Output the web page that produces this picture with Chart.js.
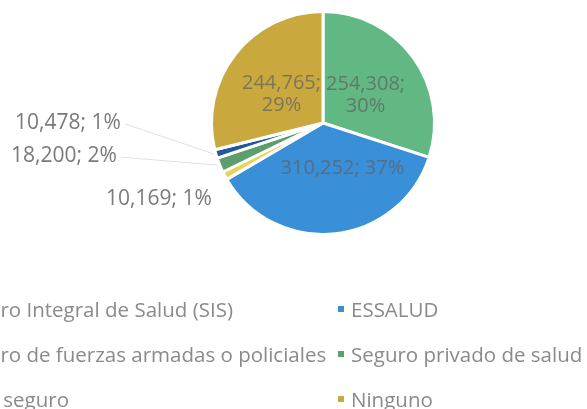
<!DOCTYPE html>
<html>
<head>
<meta charset="utf-8">
<script src="https://cdn.jsdelivr.net/npm/chart.js@4/dist/chart.umd.min.js"></script>
<style>
  html, body { margin: 0; padding: 0; background: #fff; overflow: hidden; }
  #wrap { position: relative; width: 587px; height: 409px; overflow: hidden; }
  #chart { position: absolute; left: 0; top: 0; }
  #legend {
    position: absolute; left: -59px; top: 286px;
    display: grid; grid-template-columns: 397px 260px; grid-auto-rows: 45px;
    font-family: "Open Sans", sans-serif; font-size: 20.5px; color: #8a8a8a;
  }
  #legend div { display: flex; align-items: center; white-space: nowrap; }
  #legend span.box { width: 6px; height: 6px; margin-right: 7px; flex: none; }
</style>
</head>
<body>
<div id="wrap">
  <canvas id="chart" width="587" height="409"></canvas>
  <div id="legend"></div>
</div>
<script>
const labels = [
  'Seguro Integral de Salud (SIS)',
  'ESSALUD',
  'Seguro de fuerzas armadas o policiales',
  'Seguro privado de salud',
  'Otro seguro',
  'Ninguno'
];
const values = [254308, 310252, 10169, 18200, 10478, 244765];
const colors = ['#62b882', '#3a8fd9', '#e6d45a', '#5c9f6c', '#1f5b9c', '#c9a93e'];

// legend (two columns, like the original)
const legendEl = document.getElementById('legend');
labels.forEach((name, i) => {
  const item = document.createElement('div');
  item.innerHTML = '<span class="box" style="background:' + colors[i] + '"></span>' + name;
  legendEl.appendChild(item);
});

// label placement per slice: inside (two lines / one line) or outside with leader
const labelStyle = [
  { mode: 'inside', wrap: true, dx: 2, dy: 2 },
  { mode: 'inside', wrap: false, dx: 14, dy: -5 },
  { mode: 'outside', dx: -13, dy: 23, leader: false },
  { mode: 'outside', dx: -103, dy: -9, leader: true },
  { mode: 'outside', dx: -95, dy: -31, leader: true },
  { mode: 'inside', wrap: true, dx: -2, dy: 2 }
];

const sliceLabels = {
  id: 'sliceLabels',
  afterDatasetsDraw(chart) {
    const ctx = chart.ctx;
    const meta = chart.getDatasetMeta(0);
    const data = chart.data.datasets[0].data;
    const total = data.reduce((a, b) => a + b, 0);
    ctx.save();
    ctx.textBaseline = 'middle';
    meta.data.forEach((arc, i) => {
      const p = arc.getProps(['x', 'y', 'startAngle', 'endAngle', 'outerRadius'], true);
      const mid = (p.startAngle + p.endAngle) / 2;
      const num = data[i].toLocaleString('en-US');
      const pct = Math.round(data[i] / total * 100) + '%';
      const st = labelStyle[i];
      if (st.mode === 'inside') {
        const r = p.outerRadius * 0.45;
        const cx = p.x + Math.cos(mid) * r + st.dx;
        const cy = p.y + Math.sin(mid) * r + st.dy;
        ctx.font = '20px "Open Sans", sans-serif';
        ctx.fillStyle = 'rgba(95,95,95,0.7)';
        ctx.textAlign = 'center';
        if (st.wrap) {
          ctx.fillText(num + ';', cx, cy - 11);
          ctx.fillText(pct, cx, cy + 11);
        } else {
          ctx.fillText(num + '; ' + pct, cx, cy);
        }
      } else {
        const ex = p.x + Math.cos(mid) * p.outerRadius;
        const ey = p.y + Math.sin(mid) * p.outerRadius;
        const tx = ex + st.dx;
        const ty = ey + st.dy;
        if (st.leader) {
          ctx.strokeStyle = '#e0e0e0';
          ctx.lineWidth = 1;
          ctx.beginPath();
          ctx.moveTo(tx + 4, ty + 1);
          ctx.lineTo(ex - 2, ey);
          ctx.stroke();
        }
        ctx.font = '21px "Open Sans", sans-serif';
        ctx.fillStyle = '#7a7a7a';
        ctx.textAlign = 'right';
        ctx.fillText(num + '; ' + pct, tx, ty);
      }
    });
    ctx.restore();
  }
};

new Chart(document.getElementById('chart'), {
  type: 'pie',
  data: {
    labels: labels,
    datasets: [{
      data: values,
      backgroundColor: colors,
      borderColor: '#ffffff',
      borderWidth: 3,
      hoverOffset: 0
    }]
  },
  options: {
    responsive: false,
    animation: false,
    layout: { padding: { left: 210, right: 151, top: 10, bottom: 173 } },
    plugins: {
      legend: { display: false },
      tooltip: { enabled: false }
    }
  },
  plugins: [sliceLabels]
});
</script>
</body>
</html>
